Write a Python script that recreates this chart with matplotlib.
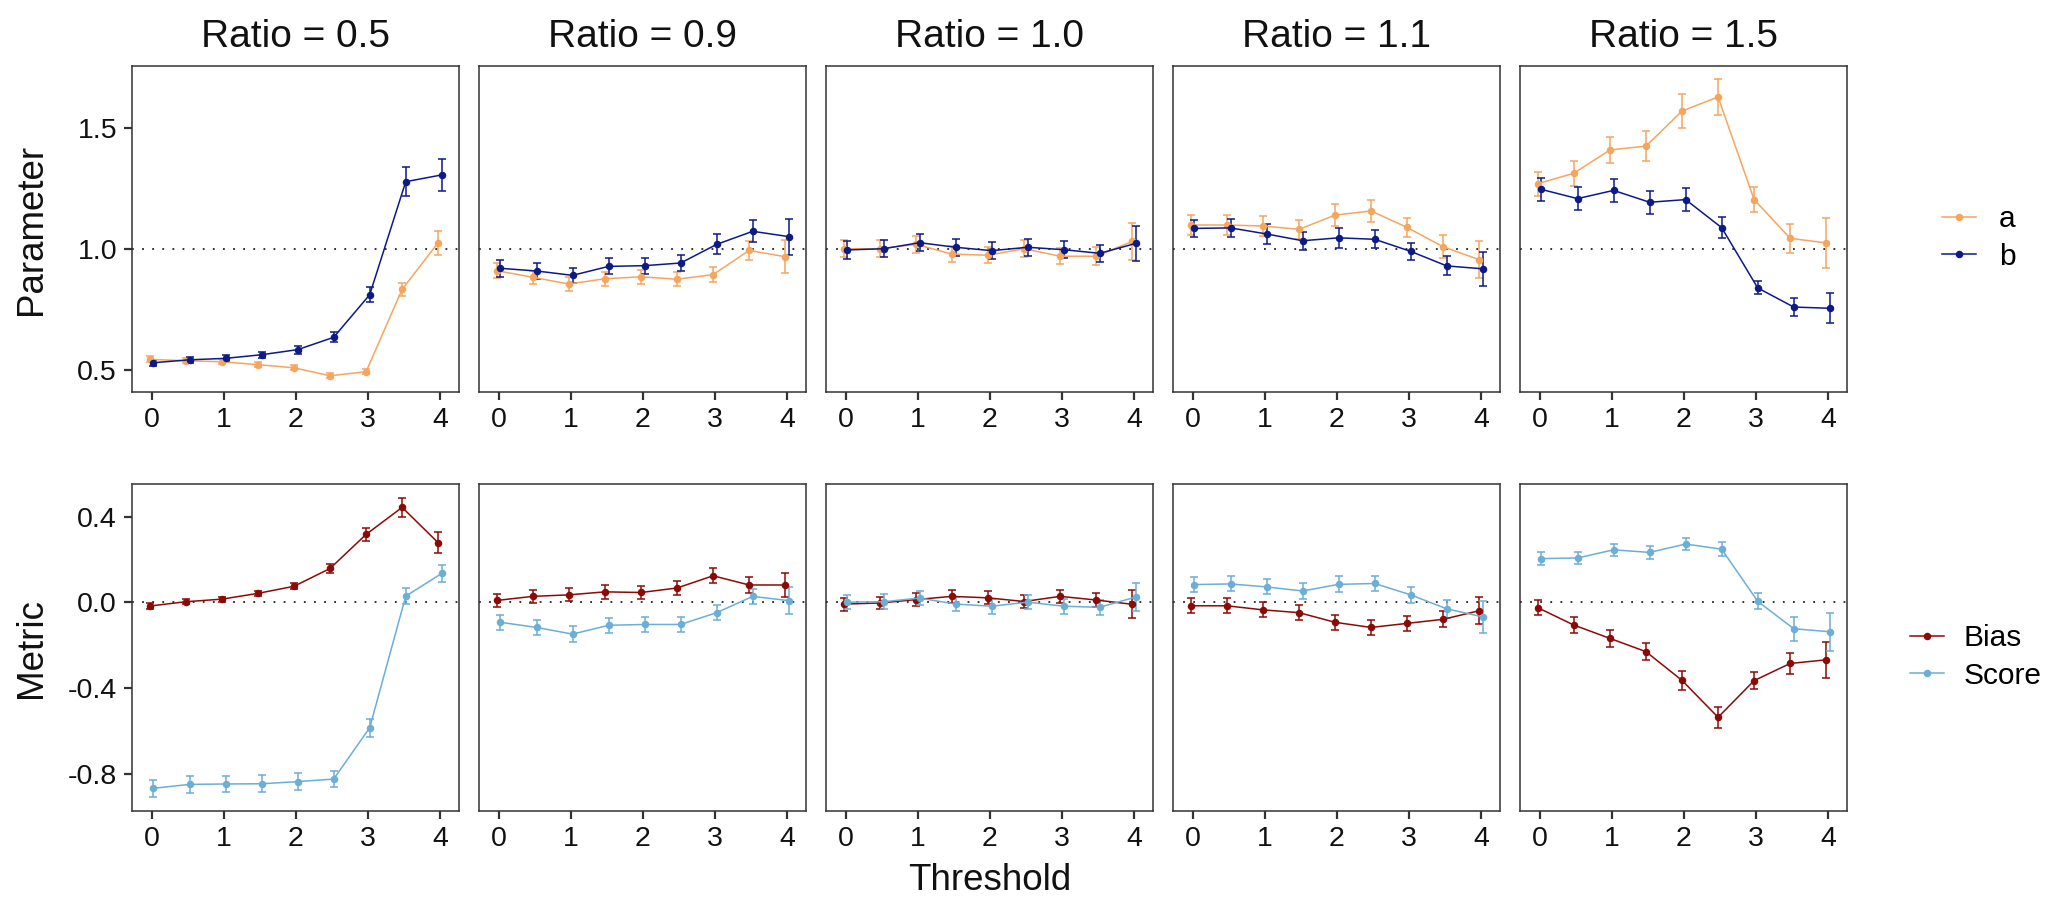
import matplotlib
matplotlib.use("Agg")
import matplotlib.pyplot as plt
from matplotlib.lines import Line2D

plt.rcParams['font.family'] = ['Liberation Sans', 'DejaVu Sans']

# ---------------- data ----------------
thresholds = [0, 0.5, 1, 1.5, 2, 2.5, 3, 3.5, 4]
ratio_labels = ["Ratio = 0.5", "Ratio = 0.9", "Ratio = 1.0", "Ratio = 1.1", "Ratio = 1.5"]
x_ticks = [0, 1, 2, 3, 4]
param_ticks = [0.5, 1.0, 1.5]
param_tick_labels = ["0.5", "1.0", "1.5"]
metric_ticks = [-0.8, -0.4, 0.0, 0.4]
metric_tick_labels = ["-0.8", "-0.4", "0.0", "0.4"]

# Parameter a (one row per ratio)
param_a = [
    [0.543, 0.537, 0.533, 0.521, 0.508, 0.475, 0.492, 0.832, 1.025],
    [0.909, 0.882, 0.854, 0.876, 0.884, 0.874, 0.893, 0.993, 0.967],
    [1.000, 1.000, 1.018, 0.978, 0.973, 1.000, 0.969, 0.969, 1.030],
    [1.098, 1.098, 1.094, 1.080, 1.139, 1.156, 1.088, 1.008, 0.955],
    [1.269, 1.312, 1.408, 1.424, 1.569, 1.627, 1.203, 1.043, 1.024],
]
param_a_err = [
    [0.012, 0.010, 0.010, 0.010, 0.010, 0.010, 0.010, 0.028, 0.050],
    [0.030, 0.028, 0.028, 0.028, 0.028, 0.028, 0.030, 0.040, 0.067],
    [0.035, 0.034, 0.034, 0.034, 0.034, 0.034, 0.034, 0.038, 0.078],
    [0.040, 0.040, 0.040, 0.038, 0.045, 0.044, 0.040, 0.047, 0.075],
    [0.050, 0.052, 0.054, 0.062, 0.070, 0.074, 0.050, 0.060, 0.103],
]
# Parameter b
param_b = [
    [0.529, 0.541, 0.547, 0.562, 0.583, 0.634, 0.810, 1.277, 1.305],
    [0.919, 0.908, 0.890, 0.927, 0.930, 0.941, 1.018, 1.072, 1.050],
    [0.995, 1.000, 1.025, 1.006, 0.992, 1.006, 0.996, 0.981, 1.022],
    [1.084, 1.086, 1.061, 1.033, 1.045, 1.039, 0.989, 0.929, 0.917],
    [1.245, 1.207, 1.241, 1.192, 1.203, 1.087, 0.838, 0.759, 0.754],
]
param_b_err = [
    [0.012, 0.012, 0.012, 0.013, 0.016, 0.020, 0.032, 0.061, 0.067],
    [0.035, 0.033, 0.030, 0.033, 0.033, 0.033, 0.041, 0.046, 0.074],
    [0.036, 0.034, 0.034, 0.034, 0.034, 0.034, 0.034, 0.034, 0.073],
    [0.036, 0.038, 0.040, 0.038, 0.040, 0.038, 0.035, 0.039, 0.069],
    [0.048, 0.048, 0.047, 0.047, 0.046, 0.043, 0.027, 0.037, 0.061],
]
# Metric: Bias
bias = [
    [-0.017, 0.003, 0.015, 0.042, 0.075, 0.158, 0.317, 0.443, 0.278],
    [0.009, 0.028, 0.035, 0.049, 0.046, 0.067, 0.124, 0.081, 0.081],
    [-0.008, -0.003, 0.013, 0.028, 0.021, 0.004, 0.028, 0.011, -0.009],
    [-0.016, -0.016, -0.035, -0.048, -0.093, -0.117, -0.098, -0.079, -0.039],
    [-0.025, -0.106, -0.168, -0.230, -0.364, -0.536, -0.365, -0.285, -0.268],
]
bias_err = [
    [0.012, 0.012, 0.012, 0.013, 0.015, 0.020, 0.030, 0.044, 0.050],
    [0.030, 0.030, 0.030, 0.032, 0.032, 0.032, 0.034, 0.036, 0.058],
    [0.030, 0.030, 0.030, 0.030, 0.030, 0.030, 0.030, 0.032, 0.066],
    [0.035, 0.035, 0.035, 0.035, 0.036, 0.036, 0.036, 0.038, 0.064],
    [0.035, 0.038, 0.040, 0.041, 0.046, 0.049, 0.040, 0.049, 0.085],
]
# Metric: Score
score = [
    [-0.867, -0.849, -0.847, -0.846, -0.836, -0.824, -0.585, 0.029, 0.135],
    [-0.093, -0.117, -0.148, -0.107, -0.103, -0.103, -0.048, 0.028, 0.008],
    [0.001, 0.003, 0.020, -0.008, -0.018, 0.001, -0.018, -0.023, 0.025],
    [0.083, 0.086, 0.072, 0.053, 0.084, 0.088, 0.035, -0.030, -0.068],
    [0.204, 0.207, 0.245, 0.233, 0.272, 0.248, 0.005, -0.123, -0.137],
]
score_err = [
    [0.039, 0.039, 0.039, 0.039, 0.039, 0.039, 0.042, 0.037, 0.039],
    [0.036, 0.036, 0.036, 0.035, 0.035, 0.035, 0.034, 0.035, 0.063],
    [0.034, 0.034, 0.034, 0.034, 0.034, 0.034, 0.034, 0.034, 0.065],
    [0.035, 0.035, 0.035, 0.037, 0.037, 0.037, 0.037, 0.043, 0.075],
    [0.030, 0.030, 0.027, 0.032, 0.029, 0.032, 0.037, 0.055, 0.089]
]

# ---------------- style ----------------
COL_A = "#F6A55E"
COL_B = "#0B1A88"
COL_BIAS = "#8B0A05"
COL_SCORE = "#6BAED6"
EDGE = "#333333"
DODGE = 0.025

W, H = 2067, 913
fig = plt.figure(figsize=(W / 100, H / 100), dpi=100)

def px_axes(left, top, width, height):
    return fig.add_axes([left / W, 1 - (top + height) / H, width / W, height / H])

def style_axes(ax, ylim, yticks, yticklabels, first):
    ax.set_xlim(-0.273, 4.264)
    ax.set_ylim(*ylim)
    ax.set_xticks(x_ticks)
    ax.set_xticklabels([str(t) for t in x_ticks])
    for sp in ax.spines.values():
        sp.set_color(EDGE)
        sp.set_linewidth(1.1)
    ax.tick_params(axis='x', direction='out', length=5.8, width=1.6, color=EDGE,
                   labelsize=20.5, pad=5, labelcolor="#111111")
    if first:
        ax.set_yticks(yticks)
        ax.set_yticklabels(yticklabels)
        ax.tick_params(axis='y', direction='out', length=5.8, width=1.6, color=EDGE,
                       labelsize=20.5, pad=5, labelcolor="#111111")
    else:
        ax.set_yticks([])

def draw_series(ax, ys, errs, color, shift, label):
    xs = [t + shift for t in thresholds]
    ax.errorbar(xs, ys, yerr=errs, fmt='-o', color=color, ms=4.4, lw=1.1,
                elinewidth=1.1, capsize=3.2, capthick=1.1, label=label, zorder=3)

panel_w, panel_h_top, panel_h_bot = 327, 326, 327
for i in range(5):
    left = 132 + 347 * i
    # top row: parameters
    ax = px_axes(left, 66, panel_w, panel_h_top)
    ax.axhline(1.0, color="#222222", lw=1.3, ls=(0, (1, 4.6)), zorder=1)
    draw_series(ax, param_a[i], param_a_err[i], COL_A, -DODGE, "a")
    draw_series(ax, param_b[i], param_b_err[i], COL_B, DODGE, "b")
    style_axes(ax, (0.408, 1.755), param_ticks, param_tick_labels, i == 0)
    fig.text((left + panel_w / 2) / W, 1 - 46.7 / H, ratio_labels[i],
             ha='center', va='baseline', fontsize=28, color="#111111")

    # bottom row: metrics
    ax2 = px_axes(left, 484, panel_w, panel_h_bot)
    ax2.axhline(0.0, color="#222222", lw=1.3, ls=(0, (1, 4.6)), zorder=1)
    draw_series(ax2, bias[i], bias_err[i], COL_BIAS, -DODGE, "Bias")
    draw_series(ax2, score[i], score_err[i], COL_SCORE, DODGE, "Score")
    style_axes(ax2, (-0.973, 0.552), metric_ticks, metric_tick_labels, i == 0)

# axis titles
fig.text(31 / W, 1 - 229 / H, "Parameter", rotation=90, ha='center', va='center',
         fontsize=26.5, color="#111111")
fig.text(31 / W, 1 - 647.5 / H, "Metric", rotation=90, ha='center', va='center',
         fontsize=26.5, color="#111111")
fig.text(989.5 / W, 1 - 880 / H, "Threshold", ha='center', va='center',
         fontsize=26.5, color="#111111")

# legends
def legend_handles(colors):
    return [Line2D([0], [0], color=c, lw=1.1, marker='o', ms=4.4) for c in colors]

fig.legend(legend_handles([COL_A, COL_B]), ["a", "b"], loc='center left',
           bbox_to_anchor=(1942 / W, 1 - 238 / H), frameon=False, fontsize=21.5,
           handlelength=1.15, handletextpad=0.75, labelspacing=0.33,
           borderpad=0, borderaxespad=0)
fig.legend(legend_handles([COL_BIAS, COL_SCORE]), ["Bias", "Score"], loc='center left',
           bbox_to_anchor=(1910 / W, 1 - 657 / H), frameon=False, fontsize=21.5,
           handlelength=1.15, handletextpad=0.65, labelspacing=0.33,
           borderpad=0, borderaxespad=0)

fig.savefig("out.png", dpi=100, facecolor="white")
